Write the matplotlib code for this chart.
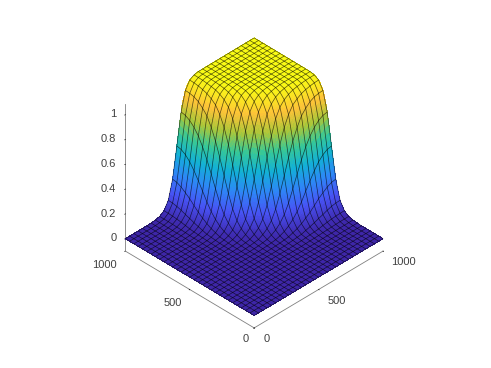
import numpy as np
import matplotlib
matplotlib.use('Agg')
import matplotlib.pyplot as plt
from matplotlib.colors import LinearSegmentedColormap
from mpl_toolkits.mplot3d import proj3d

plt.rcParams['font.family'] = ['Liberation Sans', 'DejaVu Sans']

# 뒤쪽 모서리 (1000, 1000) 에서의 거리별 높이
radius = [0, 440, 470, 500, 520, 540, 560, 580, 600, 620, 640, 660, 680, 700, 730, 770, 820, 1500]
height = [1, 0.997, 0.99, 0.97, 0.94, 0.89, 0.80, 0.66, 0.5, 0.34, 0.21, 0.12, 0.07, 0.04, 0.015, 0.005, 0, 0]
z_ticks = [0, 0.2, 0.4, 0.6, 0.8, 1]
z_labels = ['0', '0.2', '0.4', '0.6', '0.8', '1']
xy_ticks = [0, 500, 1000]
xy_labels = ['0', '500', '1000']

parula_colors = [(0.2422, 0.1504, 0.6603), (0.2810, 0.3228, 0.9579), (0.1786, 0.5289, 0.9682),
                 (0.0689, 0.6948, 0.8394), (0.2161, 0.7843, 0.5923), (0.6720, 0.7793, 0.2227),
                 (0.9970, 0.7659, 0.2199), (0.9769, 0.9839, 0.0805)]
parula = LinearSegmentedColormap.from_list('parula', parula_colors)


def surface_z(n):
    g = np.linspace(0, 1000, n)
    X, Y = np.meshgrid(g, g)
    r = np.hypot(1000 - X, 1000 - Y)
    return X, Y, np.interp(r, radius, height)


fig = plt.figure(figsize=(4.91, 3.68), dpi=100)
ax = fig.add_axes([3.7 / 491, 1.7 / 368, 1, 1], projection='3d', proj_type='ortho', computed_zorder=False)
ax.view_init(elev=36.6, azim=-135)
ax.set_xlim(0, 1000, view_margin=0)
ax.set_ylim(0, 1000, view_margin=0)
ax.set_zlim(-0.1, 1.09, view_margin=0)
ax.set_box_aspect((1, 1, 1.008), zoom=0.835)

# 면은 촘촘하게 (색 보간 효과), 메쉬는 31x31
Xf, Yf, Zf = surface_z(151)
ax.plot_surface(Xf, Yf, Zf, rstride=1, cstride=1, facecolors=parula(Zf), shade=False,
                linewidth=0, antialiased=False, zorder=1)
Xm, Ym, Zm = surface_z(31)
ax.plot_wireframe(Xm, Ym, Zm, rstride=1, cstride=1, color=(0, 0, 0, 0.65), linewidth=0.5, zorder=2)

ax.set_xticks(xy_ticks)
ax.set_yticks(xy_ticks)
ax.set_zticks(z_ticks)
ax.set_xticklabels([])
ax.set_yticklabels([])
ax.set_zticklabels([])
ax.grid(False)
for axis in (ax.xaxis, ax.yaxis, ax.zaxis):
    axis.set_pane_color((1, 1, 1, 0))
    axis.pane.set_edgecolor((1, 1, 1, 0))
    axis.line.set_color('#808080')
    axis.line.set_linewidth(0.6)
    axis._axinfo['tick']['inward_factor'] = 0.05
    axis._axinfo['tick']['outward_factor'] = 0
    axis._axinfo['tick']['linewidth'] = {True: 0.5, False: 0.5}
    axis._axinfo['tick']['color'] = '#808080'

# 눈금 라벨은 틱 위치를 화면 좌표로 바꿔서 픽셀 오프셋으로 배치
fig.canvas.draw()
M = ax.get_proj()


def put_label(x, y, z, s, dx, dy, ha='center'):
    x2, y2, _ = proj3d.proj_transform(x, y, z, M)
    px, py = ax.transData.transform((x2, y2))
    fig.text((px + dx) / 491, (py - dy) / 368, s, fontsize=8, color='#404040', ha=ha, va='center')


for v, s, dx, dy in zip(xy_ticks, xy_labels, [13, 18, 20], [11, 12, 11]):
    put_label(v, 0, -0.1, s, dx, dy)
for v, s, dx, dy in zip(xy_ticks, xy_labels, [-8, -17, -21], [11, 14, 14]):
    put_label(0, v, -0.1, s, dx, dy)
for v, s in zip(z_ticks, z_labels):
    put_label(0, 1000, v, s, -9, -0.3, ha='right')

fig.savefig('out.png', dpi=100)
